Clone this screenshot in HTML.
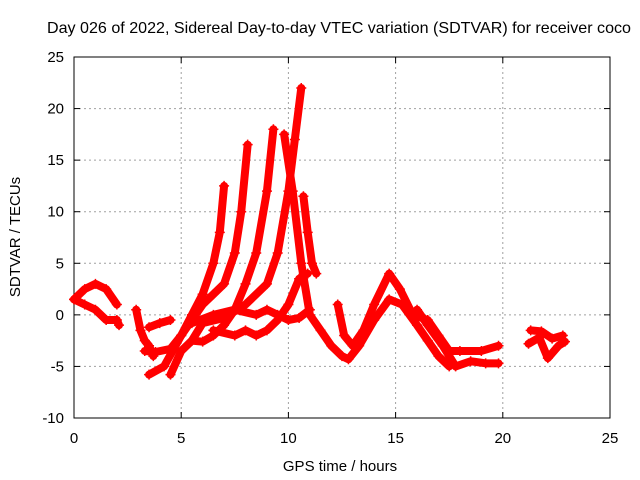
<!DOCTYPE html>
<html><head><meta charset="utf-8"><style>
body{margin:0;background:#fff;}
svg{display:block;font-family:"Liberation Sans",sans-serif;}
</style></head><body>
<svg id="chart" width="640" height="480" viewBox="0 0 640 480" xmlns="http://www.w3.org/2000/svg">
<rect width="640" height="480" fill="#fff"/>
<text x="339" y="33" font-size="16" text-anchor="middle" textLength="584" lengthAdjust="spacingAndGlyphs">Day 026 of 2022, Sidereal Day-to-day VTEC variation (SDTVAR) for receiver coco</text>
<g id="grid"></g><g id="axes"></g><g id="series"></g>
<text x="340" y="471" font-size="15" text-anchor="middle">GPS time / hours</text>
<text transform="translate(20,237) rotate(-90)" font-size="15" text-anchor="middle">SDTVAR / TECUs</text>
</svg>
<script>
const xTicks=[0,5,10,15,20,25];
const yTicks=[-10,-5,0,5,10,15,20,25];
const sA_h=[0,0.5,1,1.5,2]; const sA_v=[1.5,2.5,3,2.5,1];
const sB_h=[0,0.5,1,1.5,2,2.1]; const sB_v=[1.5,1,0.5,-0.5,-0.5,-1];
const sC_h=[2.9,3.1,3.3,3.5,3.7]; const sC_v=[0.5,-1.5,-2.5,-3,-4];
const sD_h=[3.5,4.0,4.5]; const sD_v=[-1.2,-0.8,-0.5];
const sE_h=[3.3,3.8,4.5,5.0,5.5,6.0,6.5,6.8,7.0]; const sE_v=[-3.5,-3.6,-3.3,-2,0,2,5,8,12.5];
const sF_h=[3.5,4.2,5,5.5,6,6.5,7,7.5,7.8,8.1]; const sF_v=[-5.8,-5,-2,-0.5,1,2,3,6,10,16.5];
const sG_h=[4.5,5,5.5,6,6.5,7,7.5,8,8.5,9,9.3]; const sG_v=[-5.8,-3.5,-2.5,-2.6,-2,-1,0.5,3,6,12,18];
const sH_h=[5.5,6,7,8,9,9.5,10,10.3,10.6]; const sH_v=[-2.5,-0.8,-0.3,1,3,6,12,17,22];
const sI_h=[9.8,10.2,10.6,11,11.5,12,12.5,12.8,13.3,14,14.7,15.3,16,16.5,17,17.5]; const sI_v=[17.5,12,5,0,-1.5,-3,-4,-4.3,-3,-0.5,1.5,1,-1,-2.5,-4,-5];
const sJ_h=[10.7,10.9,11.1,11.3]; const sJ_v=[11.5,8,5,4];
const sK_h=[5.5,6.5,7.5,8.5,9,9.5,10,10.5,11]; const sK_v=[-0.8,0,0.5,0,0.5,0,-0.5,-0.3,0.5];
const sL_h=[6.5,7.5,8,8.5,9,9.5,10,10.5,10.9]; const sL_v=[-1.5,-2,-1.5,-2,-1.5,-0.5,1,3.5,4];
const sM_h=[12.3,12.6,13,13.5,14,14.7,15.2,15.8,16.5,17,17.5,18,19,19.8]; const sM_v=[1,-2,-3,-1.5,1,4,2.5,0,-0.5,-2,-3.5,-3.5,-3.5,-3];
const sN_h=[16,16.5,17.2,17.8,18.5,19.2,19.8]; const sN_v=[0.5,-1,-3,-5,-4.5,-4.7,-4.7];
const sO_h=[21.3,21.8,22.3,22.8]; const sO_v=[-1.5,-1.6,-2.3,-2];
const sP_h=[21.2,21.7,22.1,22.6,22.9]; const sP_v=[-2.8,-2.2,-4.2,-3,-2.6];
const seriesList=[[sA_h,sA_v],[sB_h,sB_v],[sC_h,sC_v],[sD_h,sD_v],[sE_h,sE_v],[sF_h,sF_v],[sG_h,sG_v],[sH_h,sH_v],[sI_h,sI_v],[sJ_h,sJ_v],[sK_h,sK_v],[sL_h,sL_v],[sM_h,sM_v],[sN_h,sN_v],[sO_h,sO_v],[sP_h,sP_v]];
const X0=74,X1=610,Y0=57,Y1=418;
const px=h=>X0+(h-0)/(25-0)*(X1-X0);
const py=v=>Y1-(v+10)/(35)*(Y1-Y0);
const NS="http://www.w3.org/2000/svg";
function mk(t,a,p){const e=document.createElementNS(NS,t);for(const k in a)e.setAttribute(k,a[k]);p.appendChild(e);return e;}
const grid=document.getElementById('grid'),axes=document.getElementById('axes'),ser=document.getElementById('series');
xTicks.forEach(t=>{const x=px(t);
 if(t>0&&t<25){const g=mk('line',{x1:x,x2:x,y1:Y0,y2:Y1,stroke:'#a0a0a0','stroke-dasharray':'2,3'},grid);}
 const l=mk('text',{x:x,y:Y1+25,'font-size':15,'text-anchor':'middle'},axes);l.textContent=t;
 
 mk('line',{x1:x,x2:x,y1:Y1,y2:Y1-6,stroke:'#000'},axes);mk('line',{x1:x,x2:x,y1:Y0,y2:Y0+6,stroke:'#000'},axes);});
yTicks.forEach(t=>{const y=py(t);
 if(t>-10&&t<25){const g=mk('line',{x1:X0,x2:X1,y1:y,y2:y,stroke:'#a0a0a0','stroke-dasharray':'2,3'},grid);}
 const l=mk('text',{x:X0-10,y:y+5,'font-size':15,'text-anchor':'end'},axes);l.textContent=t;
 
 mk('line',{x1:X0,x2:X0+6,y1:y,y2:y,stroke:'#000'},axes);mk('line',{x1:X1,x2:X1-6,y1:y,y2:y,stroke:'#000'},axes);});
const fr=mk('rect',{x:X0,y:Y0,width:X1-X0,height:Y1-Y0,fill:'none',stroke:'#000'},axes);

seriesList.forEach((s,i)=>{const [H,V]=s;
 const pts=H.map((h,j)=>px(h)+','+py(V[j])).join(' ');
 const pl=mk('polyline',{points:pts,fill:'none',stroke:'#ff0000','stroke-width':8,'stroke-linejoin':'round','stroke-linecap':'round'},ser);
 
 
 H.forEach((h,j)=>{const x=px(h),y=py(V[j]);
  const m=mk('path',{d:`M${x-5},${y}h10M${x},${y-5}v10`,stroke:'#ff0000','stroke-width':1.5},ser);
  
  });
});
</script>
</body></html>
